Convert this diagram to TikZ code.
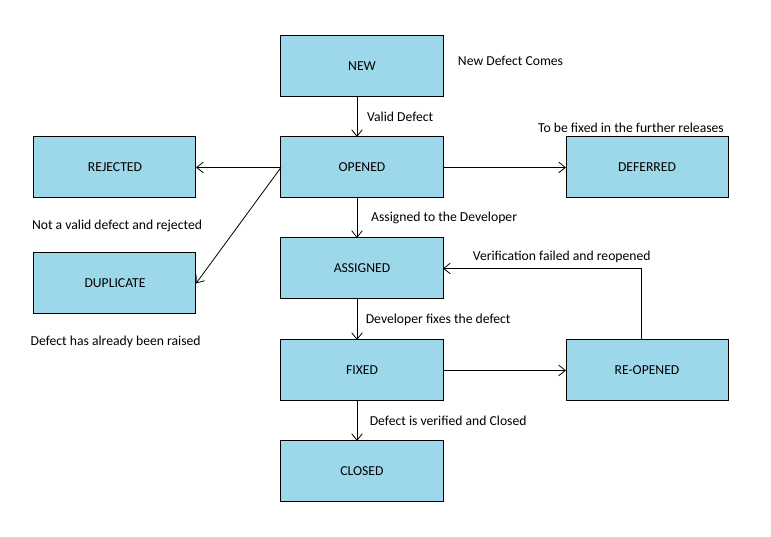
\documentclass[tikz,border=0pt]{standalone}
\usepackage{fontspec}
\setmainfont{Carlito}
\usepackage{tikz}
\usetikzlibrary{arrows.meta, positioning}
\usepackage{xcolor}
\definecolor{statefill}{HTML}{9CD8E9}

\begin{document}
\begin{tikzpicture}[
  font=\fontsize{10.25}{12}\selectfont,
  state/.style = {draw=black, line width=0.75pt, fill=statefill, minimum height=45.75pt, minimum width=121.5pt, inner sep=0pt, outer sep=0pt, align=center},
  note/.style = {inner sep=1pt, align=left},
  arrow/.style = {line width=0.6pt, -{Straight Barb[length=5pt, width=8pt]}},
  node distance=30pt and 63.75pt
]
  \useasboundingbox (-271.5pt,-276.4pt) rectangle (306.75pt,125.6pt);

  % ======================================================
  % Main column
  % ======================================================
  \node[state] (opened) at (0,0) {OPENED};
  \node[state, above=30pt of opened] (new) {NEW};
  \node[state, below=30pt of opened] (assigned) {ASSIGNED};
  \node[state, below=30.75pt of assigned] (fixed) {FIXED};
  \node[state, below=30pt of fixed] (closed) {CLOSED};

  % Side states
  \node[state, left=63.75pt of opened] (rejected) {REJECTED};
  \node[state, below=41.25pt of rejected] (duplicate) {DUPLICATE};
  \node[state, right=92.25pt of opened] (deferred) {DEFERRED};
  \node[state, right=92.25pt of fixed] (reopened) {RE-OPENED};

  % Notes
  \node[note, right=10pt of new, yshift=4pt] (newnote) {New Defect Comes};
  \node[note, above=2pt of deferred, xshift=-12pt] (deferrednote) {To be fixed in the further releases};
  \node[note, below=15pt of rejected, xshift=1.5pt] (rejectednote) {Not a valid defect and rejected};
  \node[note, below=15pt of duplicate, xshift=0.5pt] (duplicatenote) {Defect has already been raised};

  % ======================================================
  % Transitions
  % ======================================================
  % new -> opened
  \draw[arrow] ([xshift=-3.75pt]new.south) -- node[right=4pt] {Valid Defect} ([xshift=-3.75pt]opened.north);

  % opened -> rejected / duplicate / deferred
  \draw[arrow] (opened.west) -- (rejected.east);
  \draw[arrow] (opened.west) -- (duplicate.east);
  \draw[arrow] (opened.east) -- (deferred.west);

  % opened -> assigned -> fixed -> closed
  \draw[arrow] ([xshift=-3.75pt]opened.south) -- node[right=7pt] {Assigned to the Developer} ([xshift=-3.75pt]assigned.north);
  \draw[arrow] ([xshift=-3.75pt]assigned.south) -- node[right=3pt] {Developer fixes the defect} ([xshift=-3.75pt]fixed.north);
  \draw[arrow] ([xshift=-3.75pt]fixed.south) -- node[right=6pt] {Defect is verified and Closed} ([xshift=-3.75pt]closed.north);

  % fixed -> reopened -> assigned
  \draw[arrow] (fixed.east) -- (reopened.west);
  \draw[arrow] ([xshift=-4.5pt]reopened.north) |- node[pos=0.7, above=1pt] {Verification failed and reopened} (assigned.east);

\end{tikzpicture}
\end{document}
